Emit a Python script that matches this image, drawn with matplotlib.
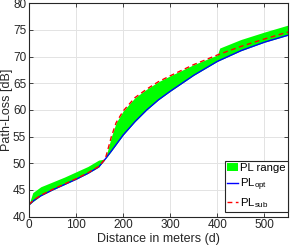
import matplotlib
matplotlib.use("Agg")
import matplotlib.pyplot as plt

# values
distance = [0, 10, 25, 50, 75, 100, 125, 148, 162, 175, 185, 200,
            225, 250, 275, 300, 350, 400, 450, 500, 550]
pl_opt = [42.2, 43.0, 43.9, 45.0, 46.0, 47.0, 48.1, 49.3, 50.8, 52.3, 53.5, 55.3,
          57.8, 60.0, 61.9, 63.5, 66.5, 69.1, 71.1, 72.7, 74.0]
pl_sub = [42.3, 43.1, 44.0, 45.1, 46.1, 47.1, 48.2, 49.4, 50.8, 55.0, 57.6, 59.8,
          62.3, 63.9, 65.3, 66.4, 68.5, 70.3, 71.9, 73.3, 74.6]

range_distance = [0, 8, 25, 50, 75, 100, 125, 148, 162, 175, 185, 200,
                  225, 250, 275, 300, 350, 400, 405, 450, 500, 550]
range_low = [42.2, 42.8, 43.9, 45.0, 46.0, 47.0, 48.1, 49.3, 50.8, 52.3, 53.5, 55.3,
             57.8, 60.0, 61.9, 63.5, 66.5, 69.1, 69.3, 71.1, 72.7, 74.0]
range_high = [42.3, 44.5, 45.6, 46.5, 47.4, 48.4, 49.4, 50.6, 50.8, 55.0, 57.6, 59.8,
              62.3, 63.9, 65.3, 66.4, 68.5, 70.3, 71.6, 73.2, 74.6, 75.9]

plt.rcParams["font.family"] = ["Liberation Sans", "DejaVu Sans"]
plt.rcParams["mathtext.fontset"] = "custom"
plt.rcParams["mathtext.rm"] = "Liberation Sans"
plt.rcParams["mathtext.it"] = "Liberation Sans"

dark = "#262626"

fig = plt.figure(figsize=(2.9, 2.49), dpi=100)
ax = fig.add_axes([0.1, 0.13, 0.893, 0.857])

ax.fill_between(range_distance, range_low, range_high, color="#00ff00",
                linewidth=0, label="PL range")
ax.plot(distance, pl_opt, color="#0000ff", lw=1.0, label=r"PL$_{\mathrm{opt}}$")
ax.plot(distance, pl_sub, color="#ff0000", lw=1.0, ls=(0, (3.5, 2.5)),
        label=r"PL$_{\mathrm{sub}}$")

ax.set_xlim(0, 550)
ax.set_ylim(40, 80)
ax.set_xticks([0, 100, 200, 300, 400, 500])
ax.set_yticks(range(40, 81, 5))
ax.grid(True, color="#e3e3e3", lw=0.7)
ax.set_axisbelow(True)

ax.tick_params(direction="in", length=3, width=0.6, labelsize=8.5, colors=dark,
               top=True, right=True, pad=2)
for s in ax.spines.values():
    s.set_color(dark)
    s.set_linewidth(0.8)

ax.set_xlabel("Distance in meters (d)", fontsize=9, color=dark, labelpad=1)
ax.set_ylabel("Path-Loss [dB]", fontsize=9, color=dark, labelpad=0)

leg = ax.legend(loc="lower right", bbox_to_anchor=(1.0, 0.02), borderaxespad=0,
                fontsize=8.2, handlelength=1.0, handletextpad=0.15,
                borderpad=0.2, labelspacing=0.3, fancybox=False, framealpha=1)
leg.get_frame().set_edgecolor(dark)
leg.get_frame().set_linewidth(0.8)

plt.savefig("out.png", dpi=100)
